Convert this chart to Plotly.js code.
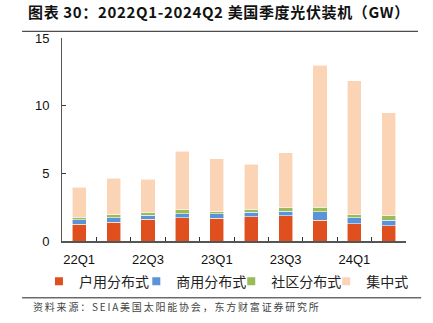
<!DOCTYPE html>
<html><head><meta charset="utf-8">
<script src="https://cdn.plot.ly/plotly-3.0.1.min.js"></script>
<style>html,body{margin:0;padding:0;background:#fff}#c{width:433px;height:323px}</style>
</head><body><div id="c"></div>
<script>
const categories = ["22Q1","22Q2","22Q3","22Q4","23Q1","23Q2","23Q3","23Q4","24Q1","24Q2"];
const tickLabels = ["22Q1","","22Q3","","23Q1","","23Q3","","24Q1",""];
const residential = [1.25,1.38,1.60,1.72,1.67,1.80,1.85,1.55,1.28,1.13];
const commercial  = [0.32,0.34,0.30,0.30,0.35,0.32,0.34,0.62,0.44,0.42];
const community   = [0.20,0.22,0.22,0.29,0.14,0.24,0.27,0.34,0.27,0.30];
const utility     = [2.19,2.71,2.46,4.33,3.91,3.32,4.06,10.49,9.84,7.62];
const seriesNames = ["户用分布式","商用分布式","社区分布式","集中式"];
const colors = ["#E0501F","#5B93D9","#9BBB59","#FBD4B6"];
const values = [residential, commercial, community, utility];
const font = "Liberation Sans, Arial, Noto Sans CJK SC, sans-serif";
const cjk = "Noto Sans CJK SC, sans-serif";
const legendIds = ["legend","legend2","legend3","legend4"];
const legendX = [-0.067, 0.216, 0.492, 0.768];

const traces = values.map((v,i)=>({
  type:"bar", x:categories, y:v, name:seriesNames[i], legendgroup:"g"+i, showlegend:false,
  marker:{color:colors[i], line:{color:"rgba(255,255,255,0.8)", width:0.7}},
  width:0.41
}));
// legend entries (small square markers like the reference)
seriesNames.forEach((n,i)=>traces.push({
  type:"scatter", mode:"markers", x:[null], y:[null], name:n, legendgroup:"g"+i,
  legend:legendIds[i], marker:{symbol:"square", size:8, color:colors[i]}
}));

const layout = {
  width:433, height:323,
  margin:{l:62, r:27, t:38, b:82},
  barmode:"stack",
  plot_bgcolor:"#fff", paper_bgcolor:"#fff",
  showlegend:true,
  xaxis:{type:"category", tickvals:categories, ticktext:tickLabels, tickson:"boundaries", tickangle:0,
    ticks:"inside", ticklen:4, tickcolor:"#333", showline:true, linecolor:"#555", linewidth:2,
    showgrid:false, tickfont:{family:font, size:13, color:"#111"}, range:[-0.5,9.5], ticklabelstandoff:5},
  yaxis:{range:[0,15], dtick:5, ticks:"inside", ticklen:4, tickcolor:"#333", showline:true,
    linecolor:"#555", linewidth:1, showgrid:false, zeroline:false, ticklabelstandoff:9,
    tickfont:{family:font, size:13, color:"#111"}},
  annotations:[
    {text:"<b>图表 30：2022Q1-2024Q2 美国季度光伏装机（GW）</b>", xref:"paper", yref:"paper",
     x:-0.105, y:1.13, xanchor:"left", yanchor:"middle", showarrow:false,
     font:{family:cjk, size:15, color:"#111"}},
    {text:"资料来源：SEIA美国太阳能协会，东方财富证券研究所", xref:"paper", yref:"paper",
     x:-0.09, y:-0.325, xanchor:"left", yanchor:"middle", showarrow:false,
     font:{family:cjk, size:10, color:"#444"}}
  ],
  shapes:[
    {type:"line", xref:"paper", yref:"paper", x0:-0.116, x1:1.035, y0:1.033, y1:1.033, line:{color:"#222", width:1}},
    {type:"line", xref:"paper", yref:"paper", x0:-0.116, x1:1.044, y0:-0.28, y1:-0.28, line:{color:"#222", width:1}}
  ]
};
legendIds.forEach((id,i)=>{
  layout[id] = {orientation:"h", x:legendX[i], xanchor:"left", y:-0.2, yanchor:"middle",
    font:{family:cjk, size:14, color:"#222"}, itemwidth:30, bgcolor:"rgba(0,0,0,0)"};
});

function spaceText(el, px){
  const b0 = el.getBBox();
  el.style.letterSpacing = px + "px";
  const b1 = el.getBBox();
  const dx = b0.x - b1.x;
  const t = el.getAttribute("transform") || "";
  el.setAttribute("transform", t + " translate(" + dx + ",0)");
}
Plotly.newPlot("c", traces, layout, {displayModeBar:false, staticPlot:true}).then(gd=>{
  const ann = gd.querySelectorAll(".annotation-text");
  if (ann[0]) spaceText(ann[0], 0.65);
  if (ann[1]) spaceText(ann[1], 1.8);
});
</script></body></html>
